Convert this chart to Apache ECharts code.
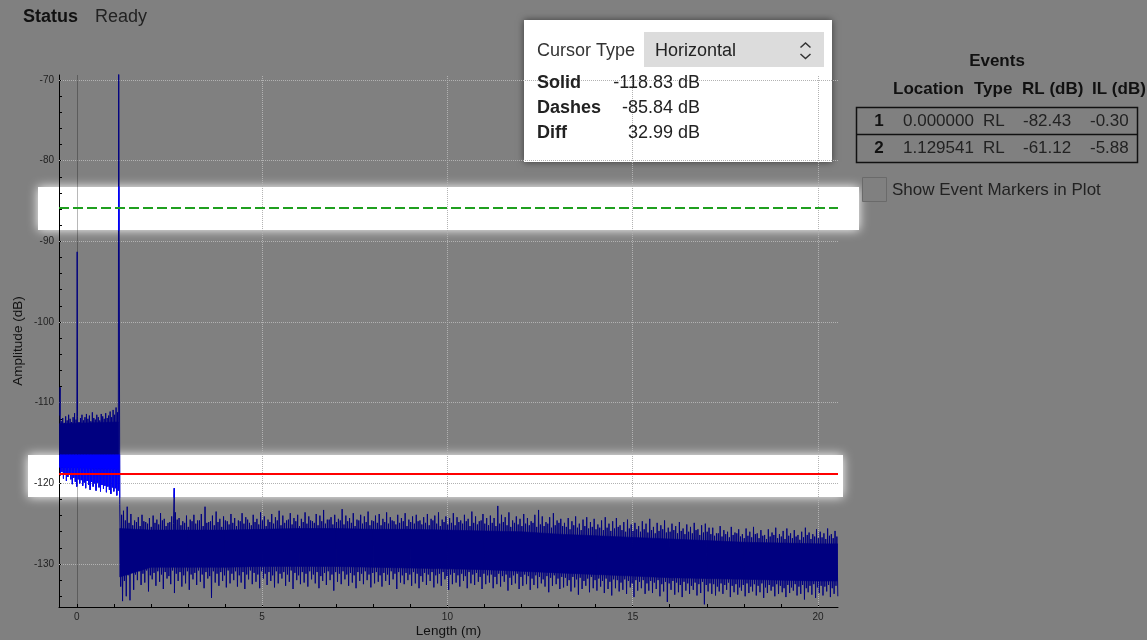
<!DOCTYPE html>
<html><head><meta charset="utf-8">
<script src="https://cdn.jsdelivr.net/npm/echarts@6/dist/echarts.min.js"></script>
<style>html,body{margin:0;padding:0;background:#808080;}#c{width:1147px;height:640px;}</style>
</head><body><div id="c"></div>
<script>
// ---------- axis / tick values ----------
const xLabelTicks = [0, 5, 10, 15, 20];
const xMinorTicks = [0,1,2,3,4,5,6,7,8,9,10,11,12,13,14,15,16,17,18,19,20];
const yLabelTicks = [-130, -120, -110, -100, -90, -80, -70];
const yMinorTicks = [-134,-132,-130,-128,-126,-124,-122,-120,-118,-116,-114,-112,-110,-108,-106,-104,-102,-100,-98,-96,-94,-92,-90,-88,-86,-84,-82,-80,-78,-76,-74,-72,-70];
const X_MIN = -0.48, X_MAX = 20.54, Y_MIN = -135.33, Y_MAX = -69.38;

// ---------- cursors ----------
const cursorSolid = -118.83;
const cursorDashes = -85.84;

// ---------- events table ----------
const eventNo = [1, 2];
const eventLocation = ['0.000000', '1.129541'];
const eventType = ['RL', 'RL'];
const eventRL = ['-82.43', '-61.12'];
const eventIL = ['-0.30', '-5.88'];

// ---------- trace: early section (before 1.13 m), bin max / bin min ----------
const earlyStart = -0.46, earlyStep = 0.04;
const earlyHi = [-111.6,-112.3,-111.9,-112.5,-111.7,-112.2,-111.5,-112.0,-112.4,-111.8,
                 -111.3,-112.1,-111.7,-112.4,-111.9,-111.5,-112.2,-111.8,-111.4,-112.0,
                 -111.6,-112.3,-111.2,-111.9,-112.1,-111.5,-111.8,-112.2,-111.4,-111.7,
                 -112.0,-111.3,-111.9,-111.6,-111.1,-111.8,-110.9,-111.5,-110.6,-111.2];
const earlyLo = [-119.0,-118.6,-119.4,-118.9,-119.7,-119.2,-118.8,-119.5,-120.1,-119.3,
                 -119.8,-120.4,-119.5,-120.0,-119.6,-120.3,-119.9,-120.6,-119.7,-120.2,
                 -120.8,-119.8,-120.4,-120.0,-120.9,-119.9,-120.5,-121.0,-120.2,-120.7,
                 -120.3,-121.1,-120.4,-120.8,-121.3,-120.5,-121.0,-120.6,-121.5,-120.9];
const earlyCoreX = [-0.47, 1.12];
const earlyCoreHi = [-112.6, -112.4];
const earlyCoreLo = [-118.0, -118.2];

// ---------- trace: main section (after 1.13 m) ----------
// per bin: outer max, outer min, inner max, inner min
const mainStart = 1.16, mainStep = 0.1;
const mainHi = [-122.6,-123.4,-122.9,-123.8,-124.6,-124.2,-123.9,-124.8,-124.3,-124.0,
                -124.5,-123.7,-124.4,-124.9,-124.1,-123.6,-124.3,-124.7,-124.0,-124.5,
                -123.9,-124.6,-123.8,-122.9,-124.8,-124.0,-123.5,-124.4,-124.1,-124.7,
                -123.8,-124.3,-124.6,-123.7,-124.2,-124.9,-123.9,-124.4,-123.6,-124.1,
                -124.5,-123.8,-124.2,-123.4,-124.0,-124.6,-123.7,-124.3,-123.9,-124.4,
                -123.6,-124.1,-124.7,-123.8,-124.0,-123.3,-124.5,-124.2,-123.9,-124.4,
                -123.2,-124.0,-124.3,-123.7,-124.5,-123.9,-124.1,-123.5,-124.6,-124.0,
                -123.8,-124.4,-123.6,-124.2,-124.7,-123.9,-124.3,-123.7,-124.5,-124.1,
                -123.9,-124.6,-124.2,-123.8,-124.4,-124.0,-123.6,-124.5,-124.1,-124.3,
                -123.7,-124.2,-124.6,-123.9,-124.4,-123.5,-124.1,-124.7,-123.8,-124.3,
                -124.0,-124.3,-122.8,-123.9,-124.2,-123.6,-124.6,-124.1,-124.4,-123.8,
                -124.3,-124.7,-123.9,-123.3,-124.1,-124.8,-124.2,-123.7,-124.6,-124.4,
                -124.9,-124.3,-124.7,-124.1,-125.0,-124.5,-124.2,-124.8,-124.4,-125.1,
                -124.6,-124.2,-125.0,-124.7,-124.3,-125.2,-124.8,-124.5,-125.1,-124.9,
                -125.3,-124.7,-125.0,-124.4,-125.4,-124.9,-125.2,-124.6,-125.5,-125.0,
                -125.3,-124.8,-125.6,-125.1,-125.4,-124.9,-125.7,-125.2,-125.0,-125.5,
                -125.5,-126.2,-125.3,-125.8,-126.0,-125.4,-126.1,-125.7,-126.3,-125.6,
                -126.0,-125.4,-126.2,-125.8,-126.4,-125.7,-126.1,-125.5,-126.3,-125.9,
                -125.6,-126.2,-125.8,-126.4,-126.0,-125.5,-126.1,-126.3,-125.7,-126.0,
                -126.2,-125.6,-126.3,-125.9];
const mainLo = [-134.6,-134.0,-134.5,-133.2,-132.0,-132.6,-132.3,-133.4,-131.9,-132.7,
                -132.2,-133.1,-131.8,-132.5,-133.6,-132.1,-132.8,-132.4,-133.2,-131.9,
                -132.6,-132.2,-133.0,-131.8,-134.2,-132.3,-132.7,-132.1,-132.9,-132.4,
                -132.0,-132.8,-132.3,-133.1,-131.9,-132.5,-132.2,-133.0,-131.8,-132.6,
                -132.1,-132.9,-132.4,-131.8,-132.7,-132.2,-133.1,-132.0,-132.5,-132.3,
                -132.8,-131.9,-132.4,-133.0,-132.1,-132.6,-132.0,-133.3,-132.2,-132.5,
                -131.9,-132.7,-132.3,-133.0,-132.1,-132.5,-132.0,-132.9,-132.4,-132.2,
                -132.8,-132.1,-132.6,-131.9,-133.1,-132.3,-132.5,-132.0,-132.7,-132.4,
                -133.0,-132.2,-132.6,-132.1,-132.9,-132.4,-132.7,-131.9,-133.2,-132.5,
                -132.3,-132.8,-132.1,-133.0,-132.4,-132.6,-132.2,-133.1,-132.5,-132.3,
                -133.0,-132.5,-132.8,-132.2,-133.3,-132.6,-132.4,-133.1,-132.7,-132.5,
                -133.2,-132.6,-133.0,-132.4,-132.8,-133.5,-132.7,-132.5,-133.1,-132.9,
                -132.7,-133.4,-132.9,-133.8,-133.1,-132.7,-133.5,-133.0,-133.3,-132.8,
                -133.6,-133.1,-133.9,-133.0,-133.4,-133.2,-133.7,-132.9,-134.1,-133.3,
                -133.0,-133.7,-133.3,-133.6,-133.1,-134.0,-133.4,-134.7,-133.2,-133.8,
                -133.5,-134.1,-133.3,-133.7,-133.2,-133.9,-133.6,-135.0,-133.4,-133.7,
                -133.9,-133.4,-133.7,-133.2,-134.1,-133.5,-133.8,-133.3,-134.0,-133.6,
                -133.4,-133.9,-133.5,-134.2,-133.6,-133.3,-134.0,-133.7,-133.5,-134.1,
                -133.6,-133.3,-133.9,-133.7,-134.4,-133.5,-133.8,-134.2,-133.6,-133.9,
                -133.4,-134.1,-133.7,-134.0];
const mainHi2 = [-123.9,-124.6,-124.9,-125.2,-124.8,-125.3,-124.7,-125.0,-125.4,-124.9,
                 -125.1,-124.6,-125.3,-124.8,-125.0,-124.5,-125.2,-124.9,-125.4,-124.7,
                 -125.0,-124.6,-125.3,-124.9,-124.7,-125.2,-124.8,-125.4,-124.6,-125.1,
                 -124.9,-125.3,-124.7,-125.0,-124.5,-125.2,-124.8,-125.1,-124.6,-125.3,
                 -124.8,-125.0,-124.6,-125.2,-124.9,-124.5,-125.1,-124.7,-125.3,-124.8,
                 -125.0,-124.6,-124.9,-125.2,-124.7,-125.0,-124.5,-125.1,-124.8,-124.6,
                 -125.1,-124.7,-124.9,-125.3,-124.6,-125.0,-124.8,-125.2,-124.7,-124.9,
                 -125.2,-124.8,-125.0,-124.6,-125.1,-124.9,-124.7,-125.3,-124.8,-125.0,
                 -124.7,-125.1,-124.9,-125.2,-124.6,-125.0,-125.3,-124.8,-125.1,-124.9,
                 -125.2,-124.8,-125.0,-124.7,-125.3,-124.9,-125.1,-124.6,-125.0,-125.2,
                 -124.9,-125.3,-125.0,-124.8,-125.2,-125.4,-124.9,-125.1,-125.3,-125.0,
                 -125.2,-124.9,-125.4,-125.1,-125.3,-125.0,-125.5,-125.2,-124.9,-125.3,
                 -125.4,-125.7,-125.2,-125.5,-125.8,-125.3,-125.6,-125.4,-125.7,-125.5,
                 -125.8,-125.5,-125.9,-125.6,-125.4,-125.8,-126.0,-125.6,-125.9,-125.7,
                 -126.0,-125.7,-126.1,-125.8,-126.2,-125.9,-125.7,-126.1,-126.0,-125.8,
                 -126.2,-125.9,-126.3,-126.0,-126.2,-125.8,-126.4,-126.1,-126.0,-126.3,
                 -126.5,-126.2,-126.6,-126.3,-126.7,-126.4,-126.2,-126.6,-126.8,-126.5,
                 -126.7,-126.3,-126.8,-126.5,-126.9,-126.6,-126.4,-126.8,-126.6,-126.9,
                 -126.5,-126.8,-126.6,-127.0,-126.7,-126.4,-126.9,-126.6,-126.8,-126.7,
                 -126.9,-126.5,-126.8,-126.6];
const mainLo2 = [-132.8,-132.1,-131.4,-131.0,-131.3,-130.9,-131.2,-130.8,-131.4,-131.1,
                 -130.9,-131.3,-131.0,-131.5,-130.8,-131.2,-131.0,-131.4,-130.9,-131.3,
                 -131.1,-130.8,-131.3,-131.0,-131.5,-130.9,-131.2,-131.0,-131.4,-130.8,
                 -131.2,-130.9,-131.4,-131.0,-131.3,-130.8,-131.1,-131.3,-130.9,-131.2,
                 -131.0,-131.4,-130.9,-131.2,-131.0,-131.3,-130.8,-131.1,-131.4,-131.0,
                 -131.2,-130.9,-131.3,-131.0,-131.5,-131.1,-130.9,-131.3,-131.0,-131.2,
                 -130.9,-131.3,-131.1,-131.4,-131.0,-131.2,-130.9,-131.3,-131.1,-131.0,
                 -131.4,-131.1,-131.3,-130.9,-131.2,-131.0,-131.4,-131.1,-131.3,-131.0,
                 -131.2,-131.5,-131.1,-131.3,-131.0,-131.4,-131.2,-131.0,-131.5,-131.3,
                 -131.1,-131.4,-131.2,-131.5,-131.0,-131.3,-131.1,-131.6,-131.2,-131.4,
                 -131.3,-131.6,-131.2,-131.5,-131.3,-131.7,-131.4,-131.2,-131.6,-131.3,
                 -131.5,-131.8,-131.4,-131.6,-131.9,-131.5,-131.7,-131.4,-131.8,-131.6,
                 -131.7,-132.0,-131.6,-131.9,-131.7,-132.1,-131.8,-131.6,-132.0,-131.8,
                 -132.1,-131.8,-132.2,-131.9,-132.0,-132.3,-131.9,-132.1,-132.4,-132.0,
                 -132.2,-132.0,-132.4,-132.1,-132.3,-132.0,-132.5,-132.2,-132.4,-132.1,
                 -132.3,-132.6,-132.2,-132.4,-132.7,-132.3,-132.5,-132.2,-132.6,-132.4,
                 -132.5,-132.8,-132.4,-132.6,-132.3,-132.7,-132.5,-132.9,-132.6,-132.4,
                 -132.8,-132.5,-132.7,-132.4,-132.9,-132.6,-132.8,-132.5,-132.7,-133.0,
                 -132.6,-132.9,-132.5,-132.8,-132.6,-133.0,-132.7,-132.5,-132.9,-132.7,
                 -132.8,-132.6,-133.0,-132.7];
const mainCoreX  = [1.16, 2, 3, 4, 5, 6, 7, 8, 9, 10, 11, 12, 13, 14, 15, 16, 17, 18, 19, 20, 20.53];
const mainCoreHi = [-125.6,-125.8,-125.8,-125.8,-125.7,-125.6,-125.6,-125.7,-125.7,-125.8,-125.9,-126.0,-126.3,-126.5,-126.7,-126.9,-127.1,-127.3,-127.4,-127.5,-127.5];
const mainCoreLo = [-131.6,-130.4,-130.4,-130.4,-130.3,-130.3,-130.3,-130.4,-130.5,-130.6,-130.7,-130.9,-131.1,-131.3,-131.5,-131.7,-131.8,-131.9,-132.0,-132.1,-132.1];

// ---------- isolated reflection spikes ----------
const spikeX = [-0.45, 0.01, 1.13, 2.63];
const spikeY = [-108.1, -91.3, -61.12, -120.6];

// ---------- build series data ----------
function buildTrace() {
  const pts = [];
  earlyHi.forEach((h, i) => { const x = earlyStart + i * earlyStep; pts.push([x, h]); pts.push([x + earlyStep / 2, earlyLo[i]]); });
  mainHi.forEach((h, i) => {
    const x = mainStart + i * mainStep;
    pts.push([x, h]);
    pts.push([x + mainStep * 0.25, mainLo2[i]]);
    pts.push([x + mainStep * 0.5, mainHi2[i]]);
    pts.push([x + mainStep * 0.75, mainLo[i]]);
  });
  spikeX.forEach((x, i) => pts.push([x, spikeY[i]]));
  pts.sort((a, b) => a[0] - b[0]);
  return pts;
}
function buildCore() {
  const out = [];
  [[earlyCoreX, earlyCoreHi, earlyCoreLo], [mainCoreX, mainCoreHi, mainCoreLo]].forEach(([xs, hs, ls]) => {
    for (let i = 0; i < xs.length - 1; i++) out.push([xs[i], hs[i], ls[i], xs[i + 1], hs[i + 1], ls[i + 1]]);
  });
  return out;
}
const traceData = buildTrace();
const coreData = buildCore();

// ---------- layout ----------
const FONT = "'Liberation Sans', Arial, sans-serif";
const GRID = {left: 59, top: 75, width: 779, height: 532};
const valAtPx = py => Y_MAX - (py - GRID.top) / GRID.height * (Y_MAX - Y_MIN);
const redBox = {x: 28, y: 455, w: 815, h: 42};
const greenBox = {x: 38, y: 187, w: 821, h: 43};

const NAVY = '#000080', BLUE = '#0000ff';

function coreSeries(color, gi, z) {
  return {
    type: 'custom', xAxisIndex: gi, yAxisIndex: gi, z, clip: true, silent: true,
    encode: {x: [0, 3], y: [1, 2, 4, 5]},
    data: coreData,
    renderItem: (params, api) => {
      const p0 = api.coord([api.value(0), api.value(1)]);
      const p1 = api.coord([api.value(3), api.value(4)]);
      const p2 = api.coord([api.value(3), api.value(5)]);
      const p3 = api.coord([api.value(0), api.value(2)]);
      return {type: 'polygon', shape: {points: [p0, p1, p2, p3]}, style: {fill: color, stroke: color, lineWidth: 0.6}};
    }
  };
}
function traceSeries(color, gi, z) {
  return {
    type: 'line', xAxisIndex: gi, yAxisIndex: gi, z, clip: true, silent: true,
    data: traceData, showSymbol: false, symbol: 'none', sampling: null,
    lineStyle: {color, width: 1}
  };
}

const gridLineData = [];
yLabelTicks.forEach(v => gridLineData.push({yAxis: v, lineStyle: {color: '#b2b2b2', type: 'dotted', width: 1}}));
xLabelTicks.forEach(v => gridLineData.push(v === 0
  ? {xAxis: v, lineStyle: {color: 'rgba(0,0,0,0.28)', type: 'solid', width: 1}}
  : {xAxis: v, lineStyle: {color: '#b2b2b2', type: 'dotted', width: 1}}));

const hiddenAxis = (gi, extra) => Object.assign({type: 'value', gridIndex: gi, show: false, min: X_MIN, max: X_MAX}, extra || {});

const T = (x, y, text, o) => {
  o = o || {};
  return {type: 'text', x, y, z: 2, silent: true, style: {
    text, fill: o.c || '#222', font: `${o.w || 'normal'} ${o.s || 17}px ${FONT}`,
    textAlign: o.a || 'left', textVerticalAlign: 'middle', align: o.a || 'left', verticalAlign: 'middle'}};
};

const graphics = [
  {type: 'rect', z: 0, silent: true, shape: {x: greenBox.x, y: greenBox.y, width: greenBox.w, height: greenBox.h}, style: {fill: '#fff', shadowBlur: 10, shadowColor: '#fff'}},
  {type: 'rect', z: 0, silent: true, shape: {x: redBox.x, y: redBox.y, width: redBox.w, height: redBox.h}, style: {fill: '#fff', shadowBlur: 10, shadowColor: '#fff'}},
  {type: 'rect', z: 0, silent: true, shape: {x: 524, y: 20, width: 308, height: 142}, style: {fill: '#fff', shadowBlur: 7, shadowColor: 'rgba(0,0,0,0.55)'}},
  {type: 'rect', z: 1, silent: true, shape: {x: 644, y: 32, width: 180, height: 35}, style: {fill: '#dcdcdc'}},
  {type: 'polyline', z: 2, silent: true, shape: {points: [[800.5, 47.5], [805.5, 43], [810.5, 47.5]]}, style: {stroke: '#333', lineWidth: 1.5, fill: null}},
  {type: 'polyline', z: 2, silent: true, shape: {points: [[800.5, 54], [805.5, 58.5], [810.5, 54]]}, style: {stroke: '#333', lineWidth: 1.5, fill: null}},
  T(537, 51, 'Cursor Type', {s: 18, c: '#333'}),
  T(655, 51, 'Horizontal', {s: 18, c: '#222'}),
  T(537, 83, 'Solid', {s: 18, w: 'bold', c: '#222'}),
  T(700, 83, cursorSolid.toFixed(2) + ' dB', {s: 18, a: 'right', c: '#222'}),
  T(537, 108, 'Dashes', {s: 18, w: 'bold', c: '#222'}),
  T(700, 108, cursorDashes.toFixed(2) + ' dB', {s: 18, a: 'right', c: '#222'}),
  T(537, 133, 'Diff', {s: 18, w: 'bold', c: '#222'}),
  T(700, 133, (cursorDashes - cursorSolid).toFixed(2) + ' dB', {s: 18, a: 'right', c: '#222'}),
  T(23, 17, 'Status', {s: 18, w: 'bold', c: '#111'}),
  T(95, 17, 'Ready', {s: 18, c: '#222'}),
  T(997, 61, 'Events', {s: 17, w: 'bold', a: 'center', c: '#111'}),
  T(893, 89, 'Location', {s: 17, w: 'bold', c: '#111'}),
  T(974, 89, 'Type', {s: 17, w: 'bold', c: '#111'}),
  T(1022, 89, 'RL (dB)', {s: 17, w: 'bold', c: '#111'}),
  T(1092, 89, 'IL (dB)', {s: 17, w: 'bold', c: '#111'}),
  {type: 'rect', z: 1, silent: true, shape: {x: 856.5, y: 107.5, width: 281, height: 55}, style: {fill: null, stroke: '#111', lineWidth: 1.5}},
  {type: 'line', z: 1, silent: true, shape: {x1: 856.5, y1: 134.5, x2: 1137.5, y2: 134.5}, style: {stroke: '#111', lineWidth: 1.5}},
  {type: 'rect', z: 1, silent: true, shape: {x: 862.5, y: 177.5, width: 24, height: 24}, style: {fill: '#808080', stroke: '#6a6a6a', lineWidth: 1}},
  T(892, 190, 'Show Event Markers in Plot', {s: 17, c: '#222'})
];
eventNo.forEach((n, i) => {
  const y = 121 + i * 27;
  graphics.push(T(879, y, String(n), {s: 17, w: 'bold', a: 'center', c: '#111'}));
  graphics.push(T(903, y, eventLocation[i], {s: 17}));
  graphics.push(T(983, y, eventType[i], {s: 17}));
  graphics.push(T(1023, y, eventRL[i], {s: 17}));
  graphics.push(T(1090, y, eventIL[i], {s: 17}));
});

const option = {
  backgroundColor: '#808080',
  animation: false,
  textStyle: {fontFamily: FONT},
  grid: [
    {left: GRID.left, top: GRID.top, width: GRID.width, height: GRID.height, containLabel: false, outerBoundsMode: 'none'},
    {left: GRID.left, top: redBox.y, width: GRID.width, height: redBox.h, containLabel: false, outerBoundsMode: 'none'},
    {left: GRID.left, top: greenBox.y, width: GRID.width, height: greenBox.h, containLabel: false, outerBoundsMode: 'none'}
  ],
  xAxis: [
    {type: 'value', gridIndex: 0, min: X_MIN, max: X_MAX,
     axisLine: {show: true, onZero: false, lineStyle: {color: '#000', width: 1}},
     axisTick: {show: true, inside: true, length: 3, customValues: xMinorTicks, lineStyle: {color: '#000'}},
     axisLabel: {customValues: xLabelTicks, fontSize: 10, color: '#222', margin: 5, fontFamily: FONT},
     splitLine: {show: false},
     name: 'Length (m)', nameLocation: 'middle', nameGap: 17, nameMoveOverlap: false,
     nameTextStyle: {fontSize: 13.5, color: '#111', fontFamily: FONT}},
    hiddenAxis(1), hiddenAxis(2)
  ],
  yAxis: [
    {type: 'value', gridIndex: 0, min: Y_MIN, max: Y_MAX,
     axisLine: {show: true, onZero: false, lineStyle: {color: '#000', width: 1}},
     axisTick: {show: true, inside: true, length: 3, customValues: yMinorTicks, lineStyle: {color: '#000'}},
     axisLabel: {customValues: yLabelTicks, fontSize: 10, color: '#222', margin: 5, fontFamily: FONT},
     splitLine: {show: false},
     name: 'Amplitude (dB)', nameLocation: 'middle', nameGap: 34, nameMoveOverlap: false,
     nameTextStyle: {fontSize: 13.5, color: '#111', fontFamily: FONT}},
    {type: 'value', gridIndex: 1, show: false, min: valAtPx(redBox.y + redBox.h), max: valAtPx(redBox.y)},
    {type: 'value', gridIndex: 2, show: false, min: valAtPx(greenBox.y + greenBox.h), max: valAtPx(greenBox.y)}
  ],
  graphic: {elements: graphics},
  series: [
    {type: 'line', xAxisIndex: 0, yAxisIndex: 0, z: 1, silent: true, data: [[X_MIN, Y_MIN]], showSymbol: false,
     lineStyle: {opacity: 0},
     markLine: {z: 1, silent: true, symbol: ['none', 'none'], label: {show: false}, animation: false, data: gridLineData}},
    coreSeries(NAVY, 0, 2),
    traceSeries(NAVY, 0, 2),
    coreSeries(BLUE, 1, 3),
    traceSeries(BLUE, 1, 3),
    coreSeries(BLUE, 2, 3),
    traceSeries(BLUE, 2, 3),
    {type: 'line', xAxisIndex: 0, yAxisIndex: 0, z: 5, silent: true, data: [[X_MIN, Y_MIN]], showSymbol: false,
     lineStyle: {opacity: 0},
     markLine: {z: 10, silent: true, symbol: ['none', 'none'], label: {show: false}, animation: false, data: [
       {yAxis: cursorDashes, lineStyle: {color: '#1f9f1f', type: [10, 4], width: 2}},
       {yAxis: cursorSolid, lineStyle: {color: '#ff0000', type: 'solid', width: 2}}
     ]}}
  ]
};
const chart = echarts.init(document.getElementById('c'), null, {renderer: 'canvas'});
chart.setOption(option);
</script></body></html>
